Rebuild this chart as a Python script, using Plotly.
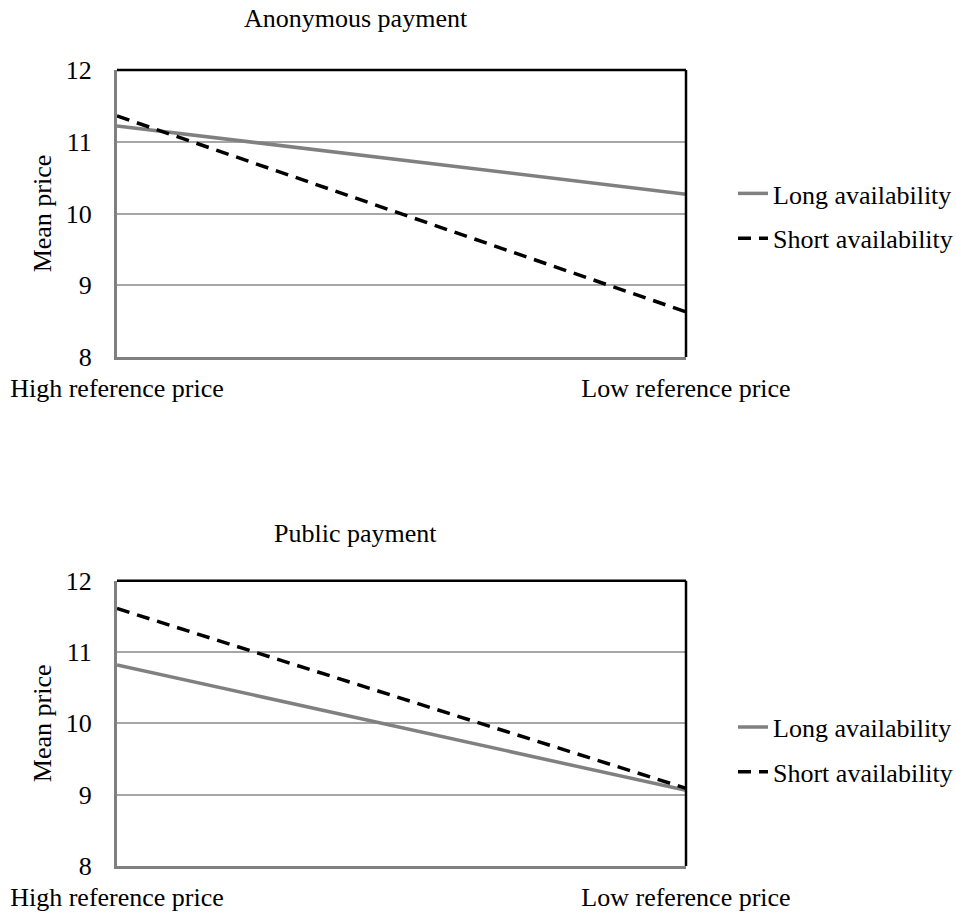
import plotly.graph_objects as go

categories = ["High reference price", "Low reference price"]
series_names = ["Long availability", "Short availability"]
anon_long = [11.22, 10.27]
anon_short = [11.36, 8.63]
public_long = [10.82, 9.06]
public_short = [11.61, 9.09]
panel_titles = ["Anonymous payment", "Public payment"]
y_ticks = [8, 9, 10, 11, 12]
y_title = "Mean price"

FONT = "Liberation Serif"
FS = 26
GRAY = "#808080"

fig = go.Figure()

panels = [
    ("x", "y", "legend", anon_long, anon_short),
    ("x2", "y2", "legend2", public_long, public_short),
]
for xa, ya, lg, lv, sv in panels:
    fig.add_trace(go.Scatter(x=categories, y=lv, mode="lines", name=series_names[0],
                             xaxis=xa, yaxis=ya, legend=lg, legendgroup=lg + "a",
                             line=dict(color=GRAY, width=3.5)))
    fig.add_trace(go.Scatter(x=categories, y=sv, mode="lines", name=series_names[1],
                             xaxis=xa, yaxis=ya, legend=lg, legendgroup=lg + "b",
                             line=dict(color="black", width=3.5, dash="13px,8px")))

xcommon = dict(type="category", range=[0, 1], showgrid=False, zeroline=False,
               showline=True, linecolor=GRAY, linewidth=3, ticks="",
               tickfont=dict(family=FONT, size=FS, color="black"),
               ticklabelstandoff=6, fixedrange=True)
ycommon = dict(range=[8, 12], tickvals=y_ticks, showgrid=True, gridcolor="#a6a6a6",
               gridwidth=1.5, zeroline=False, showline=True, linecolor=GRAY,
               linewidth=3, ticks="", ticklabelstandoff=17,
               tickfont=dict(family=FONT, size=FS, color="black"),
               title=dict(text=y_title, font=dict(family=FONT, size=FS, color="black"),
                          standoff=7))

legcommon = dict(xanchor="left", yanchor="top",
                 font=dict(family=FONT, size=FS, color="black"),
                 traceorder="grouped", tracegroupgap=8, itemwidth=30,
                 bgcolor="rgba(0,0,0,0)")

fig.update_layout(
    width=956, height=912,
    margin=dict(l=117, r=270, t=70, b=46, autoexpand=False),
    paper_bgcolor="white", plot_bgcolor="white",
    font=dict(family=FONT, size=FS, color="black"),
    xaxis=dict(domain=[0, 1], anchor="y", **xcommon),
    yaxis=dict(domain=[0.6394, 1.0], anchor="x", **ycommon),
    xaxis2=dict(domain=[0, 1], anchor="y2", **xcommon),
    yaxis2=dict(domain=[0, 0.3584], anchor="x2", **ycommon),
    legend=dict(x=1.0826, y=0.8744, **legcommon),
    legend2=dict(x=1.0826, y=0.2040, **legcommon),
    showlegend=True,
)

# top and right frame borders (black)
for xa, ya in [("x", "y"), ("x2", "y2")]:
    fig.add_shape(type="line", xref=xa + " domain", yref=ya + " domain",
                  x0=0, x1=1, y0=1, y1=1, line=dict(color="black", width=2.5))
    fig.add_shape(type="line", xref=xa + " domain", yref=ya + " domain",
                  x0=1, x1=1, y0=0, y1=1, line=dict(color="black", width=2.5))

fig.add_annotation(text=panel_titles[0], xref="paper", yref="paper", x=0.42, y=1.0653,
                   xanchor="center", yanchor="middle", showarrow=False,
                   font=dict(family=FONT, size=FS, color="black"))
fig.add_annotation(text=panel_titles[1], xref="paper", yref="paper", x=0.42, y=0.4183,
                   xanchor="center", yanchor="middle", showarrow=False,
                   font=dict(family=FONT, size=FS, color="black"))

fig.write_html("out.html", config={"displayModeBar": False},
               post_script="document.body.style.margin='0';")
